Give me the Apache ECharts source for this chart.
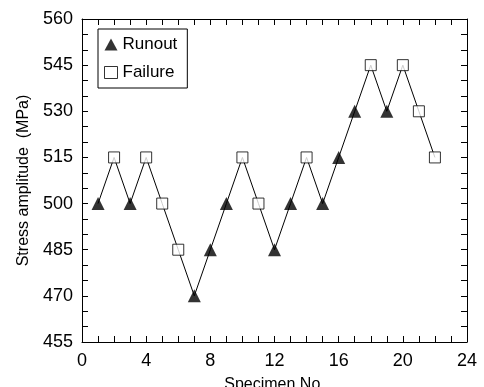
<!DOCTYPE html>
<html>
<head>
<meta charset="utf-8">
<script src="https://cdn.jsdelivr.net/npm/echarts@6/dist/echarts.min.js"></script>
<style>
  html, body { margin: 0; padding: 0; background: #fff; }
  #main { width: 484px; height: 387px; }
</style>
</head>
<body>
<div id="main"></div>
<script>
// 试样编号、应力幅值、结果（R = 未断, F = 断裂）
var specimens = [1, 2, 3, 4, 5, 6, 7, 8, 9, 10, 11, 12, 13, 14, 15, 16, 17, 18, 19, 20, 21, 22];
var stress = [500, 515, 500, 515, 500, 485, 470, 485, 500, 515, 500, 485, 500, 515, 500, 515, 530, 545, 530, 545, 530, 515];
var result = ['R', 'F', 'R', 'F', 'F', 'F', 'R', 'R', 'R', 'F', 'F', 'R', 'R', 'F', 'R', 'R', 'R', 'F', 'R', 'F', 'F', 'F'];
var xTicks = [0, 4, 8, 12, 16, 20, 24];
var yTicks = [455, 470, 485, 500, 515, 530, 545, 560];

var lineData = [], runout = [], failure = [];
for (var i = 0; i < specimens.length; i++) {
    lineData.push([specimens[i], stress[i]]);
    if (result[i] === 'R') runout.push([specimens[i], stress[i]]);
    else failure.push([specimens[i], stress[i]]);
}

var font = 'Liberation Sans, Arial, sans-serif';
var myChart = echarts.init(document.getElementById('main'));

function xAxisCfg(pos, show) {
    return {
        type: 'value', position: pos,
        min: xTicks[0], max: xTicks[xTicks.length - 1], interval: 4,
        axisLine: { show: true, onZero: false, lineStyle: { color: '#000', width: 1 } },
        axisTick: { show: true, inside: true, length: 6, lineStyle: { color: '#000' } },
        minorTick: { show: true, splitNumber: 4, length: 6, lineStyle: { color: '#000' } },
        axisLabel: { show: show, color: '#000', fontFamily: font, fontSize: 18, margin: 10 },
        splitLine: { show: false },
        name: show ? 'Specimen No.' : '',
        nameLocation: 'middle', nameGap: 35,
        nameTextStyle: { color: '#000', fontFamily: font, fontSize: 16 }
    };
}
function yAxisCfg(pos, show) {
    return {
        type: 'value', position: pos,
        min: yTicks[0], max: yTicks[yTicks.length - 1], interval: 15,
        axisLine: { show: true, onZero: false, lineStyle: { color: '#000', width: 1 } },
        axisTick: { show: true, inside: true, length: 6, lineStyle: { color: '#000' } },
        minorTick: { show: true, splitNumber: 3, length: 6, lineStyle: { color: '#000' } },
        axisLabel: { show: show, color: '#000', fontFamily: font, fontSize: 18, margin: 9 },
        splitLine: { show: false },
        name: show ? 'Stress amplitude  (MPa)' : '',
        nameLocation: 'middle', nameGap: 49,
        nameTextStyle: { color: '#000', fontFamily: font, fontSize: 16 }
    };
}

var option = {
    animation: false,
    backgroundColor: '#fff',
    grid: { left: 82, right: 17, top: 19, bottom: 45, outerBoundsMode: 'none', containLabel: false },
    xAxis: [xAxisCfg('bottom', true), xAxisCfg('top', false)],
    yAxis: [yAxisCfg('left', true), yAxisCfg('right', false)],
    legend: {
        orient: 'vertical',
        left: 98, top: 29,
        padding: [7, 10, 7, 6],
        itemGap: 11,
        itemWidth: 13, itemHeight: 12,
        borderColor: '#000', borderWidth: 1,
        textStyle: { color: '#000', fontFamily: font, fontSize: 17, padding: [0, 0, 0, 0] },
        data: [
            { name: 'Runout', icon: 'triangle' },
            { name: 'Failure', icon: 'rect', itemStyle: { color: '#fff', borderColor: '#000', borderWidth: 1 } }
        ]
    },
    series: [
        {
            type: 'line', data: lineData, symbol: 'none', silent: true,
            lineStyle: { color: '#000', width: 1 }, z: 1
        },
        {
            name: 'Runout', type: 'scatter', data: runout,
            symbol: 'triangle', symbolSize: 13,
            itemStyle: { color: '#000' }, z: 3
        },
        {
            name: 'Failure', type: 'scatter', data: failure,
            symbol: 'rect', symbolSize: 11,
            itemStyle: { color: '#fff', borderColor: '#000', borderWidth: 1 }, z: 3
        }
    ]
};
myChart.setOption(option);
</script>
</body>
</html>
